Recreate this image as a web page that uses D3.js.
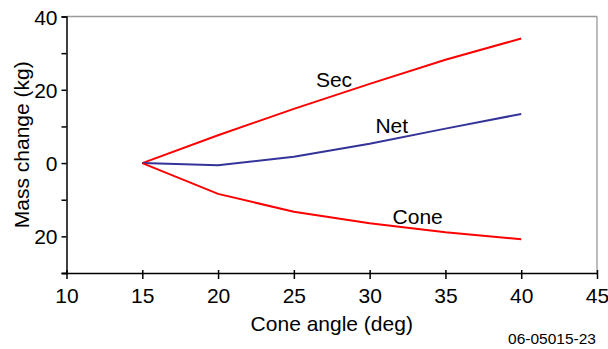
<!DOCTYPE html>
<html>
<head>
<meta charset="utf-8">
<script src="https://cdn.jsdelivr.net/npm/d3@7"></script>
<style>
  body { margin: 0; background: #fff; }
  svg text { font-family: "Liberation Sans", Arial, sans-serif; fill: #000; }
</style>
</head>
<body>
<svg id="chart" width="608" height="349"></svg>
<script>
// cone angle (deg)
var angles = [15, 20, 25, 30, 35, 40];
// mass change (kg)
var secMass  = [0, 7.6, 14.8, 21.6, 28.2, 34.0];
var netMass  = [0, -0.6, 1.7, 5.3, 9.4, 13.4];
var coneMass = [0, -8.4, -13.3, -16.4, -18.9, -20.8];

var xTicks = [10, 15, 20, 25, 30, 35, 40, 45];
var yTicks = [-30, -20, -10, 0, 10, 20, 30, 40];
var yLabelled = [-20, 0, 20, 40];

var margin = {left: 66.5, top: 16.5, right: 11, bottom: 76},
    width = 608, height = 349,
    g_width = width - margin.left - margin.right,
    g_height = height - margin.top - margin.bottom;

var svg = d3.select('#chart');
var g = svg.append('g').attr('transform', 'translate(' + margin.left + ',' + margin.top + ')');

var scale_x = d3.scaleLinear().domain([10, 45]).range([0, g_width]);
var scale_y = d3.scaleLinear().domain([-30, 40]).range([g_height, 0]);

// grey frame on top and right
g.append('line').attr('x1', 0).attr('x2', g_width).attr('y1', 0).attr('y2', 0)
  .attr('stroke', '#999').attr('stroke-width', 1.3);
g.append('line').attr('x1', g_width).attr('x2', g_width).attr('y1', 0).attr('y2', g_height)
  .attr('stroke', '#999').attr('stroke-width', 1.3);

// x axis
var xAxis = g.append('g').attr('transform', 'translate(0,' + g_height + ')')
  .call(d3.axisBottom(scale_x).tickValues(xTicks).tickSizeOuter(0).tickSize(6).tickPadding(9));
xAxis.selectAll('.tick line').attr('y1', -3);
xAxis.select('.domain').attr('d', 'M-4,0.5H' + g_width);

// y axis: ticks every 10, labels every 20 (negatives shown without sign)
var yAxis = g.append('g')
  .call(d3.axisLeft(scale_y).tickValues(yTicks).tickSizeOuter(0).tickSize(5).tickPadding(4)
    .tickFormat(function(d){ return yLabelled.indexOf(d) >= 0 ? Math.abs(d) : ''; }));

[xAxis, yAxis].forEach(function(a){
  a.select('.domain').attr('stroke', '#000').attr('stroke-width', 1.5);
  a.selectAll('.tick line').attr('stroke', '#000').attr('stroke-width', 1.5);
  a.selectAll('.tick text').attr('font-size', 21).attr('font-family', '"Liberation Sans", Arial, sans-serif');
});
yAxis.selectAll('.tick text').attr('dy', '0.36em');

// series
var line_generator = d3.line()
  .x(function(d, i){ return scale_x(angles[i]); })
  .y(function(d){ return scale_y(d); });

var series = [
  {name: 'Sec', values: secMass, color: '#ff0000', lx: 27.65, ly: 20.8},
  {name: 'Net', values: netMass, color: '#333399', lx: 31.46, ly: 8.3},
  {name: 'Cone', values: coneMass, color: '#ff0000', lx: 33.17, ly: -16.7}
];

series.forEach(function(s){
  g.append('path').attr('d', line_generator(s.values))
    .attr('fill', 'none').attr('stroke', s.color).attr('stroke-width', 2);
  g.append('text').attr('x', scale_x(s.lx)).attr('y', scale_y(s.ly))
    .attr('text-anchor', 'middle').attr('font-size', 21).text(s.name);
});

// axis titles
svg.append('text').attr('x', margin.left + g_width / 2).attr('y', 331)
  .attr('text-anchor', 'middle').attr('font-size', 21).text('Cone angle (deg)');
svg.append('text').attr('transform', 'translate(28.5,' + (margin.top + g_height / 2) + ') rotate(-90)')
  .attr('text-anchor', 'middle').attr('font-size', 21).text('Mass change (kg)');

svg.append('text').attr('x', 596).attr('y', 344)
  .attr('text-anchor', 'end').attr('font-size', 15.5).text('06-05015-23');
</script>
</body>
</html>
